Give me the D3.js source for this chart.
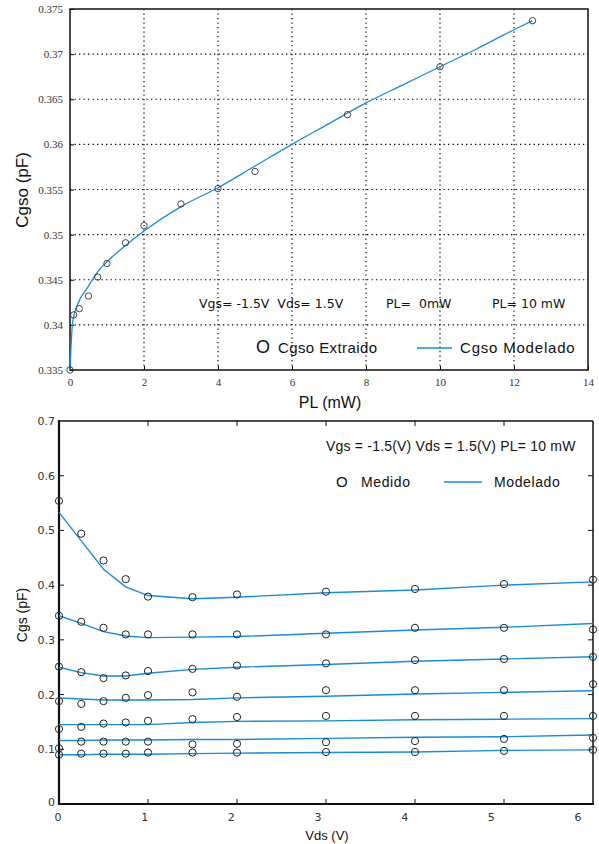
<!DOCTYPE html>
<html>
<head>
<meta charset="utf-8">
<script src="https://cdn.jsdelivr.net/npm/d3@7"></script>
<style>
  body { margin: 0; background: #fff; }
  svg { display: block; }
</style>
</head>
<body>
<svg id="chart" width="599" height="844"></svg>
<script>
// ---- top chart data: Cgso vs PL
var plExtr = [0, 0.1, 0.25, 0.5, 0.75, 1, 1.5, 2, 3, 4, 5, 7.5, 10, 12.5];
var cgsoExtr = [0.335, 0.3411, 0.3418, 0.3432, 0.3453, 0.3468, 0.3491, 0.3510, 0.3534, 0.3551, 0.3570, 0.3633, 0.3686, 0.3737];
var plMod = [0, 0.03, 0.06, 0.1, 0.2, 0.5, 0.75, 1, 1.5, 2, 3, 4, 5, 6, 7, 8, 9, 10, 11, 12, 12.5];
var cgsoMod = [0.335, 0.3378, 0.3398, 0.3409, 0.3422, 0.3443, 0.3459, 0.3470, 0.3488, 0.3504, 0.3531, 0.3552, 0.3576, 0.3600, 0.3623, 0.3646, 0.3666, 0.3686, 0.3706, 0.3727, 0.3737];
var topXTicks = [0, 2, 4, 6, 8, 10, 12, 14];
var topYTicks = [0.335, 0.34, 0.345, 0.35, 0.355, 0.36, 0.365, 0.37, 0.375];

// ---- bottom chart data: Cgs vs Vds
var vds = [0, 0.25, 0.5, 0.75, 1, 1.5, 2, 3, 4, 5, 6];
var medido = [
  [0.554, 0.494, 0.445, 0.411, 0.379, 0.378, 0.383, 0.388, 0.393, 0.402, 0.410],
  [0.344, 0.333, 0.322, 0.310, 0.310, 0.310, 0.310, 0.310, 0.322, 0.322, 0.319],
  [0.251, 0.241, 0.230, 0.235, 0.243, 0.247, 0.253, 0.257, 0.263, 0.265, 0.269],
  [0.188, 0.183, 0.188, 0.194, 0.199, 0.204, 0.196, 0.208, 0.208, 0.208, 0.219],
  [0.137, 0.141, 0.147, 0.149, 0.152, 0.155, 0.159, 0.161, 0.161, 0.161, 0.161],
  [0.102, 0.114, 0.114, 0.114, 0.114, 0.109, 0.110, 0.113, 0.115, 0.119, 0.121],
  [0.090, 0.092, 0.092, 0.092, 0.094, 0.094, 0.094, 0.095, 0.095, 0.097, 0.099]
];
var modelado = [
  [0.533, 0.481, 0.429, 0.397, 0.381, 0.375, 0.378, 0.386, 0.391, 0.400, 0.406],
  [0.344, 0.330, 0.315, 0.307, 0.304, 0.305, 0.306, 0.312, 0.318, 0.323, 0.330],
  [0.250, 0.240, 0.234, 0.234, 0.239, 0.246, 0.250, 0.255, 0.261, 0.265, 0.269],
  [0.194, 0.192, 0.190, 0.190, 0.190, 0.191, 0.194, 0.197, 0.201, 0.204, 0.207],
  [0.145, 0.145, 0.145, 0.145, 0.145, 0.149, 0.151, 0.152, 0.154, 0.155, 0.156],
  [0.116, 0.116, 0.117, 0.117, 0.117, 0.118, 0.118, 0.120, 0.122, 0.123, 0.126],
  [0.090, 0.090, 0.091, 0.091, 0.091, 0.092, 0.093, 0.094, 0.095, 0.098, 0.099]
];
var botXTicks = [0, 1, 2, 3, 4, 5, 6];
var botYTicks = [0, 0.1, 0.2, 0.3, 0.4, 0.5, 0.6, 0.7];

var blue = "#1b8bd6";
var svg = d3.select("#chart");
svg.append("rect").attr("width", 599).attr("height", 844).attr("fill", "#fff");

// ================= top chart =================
var x1 = d3.scaleLinear().domain([0, 14]).range([70, 588]);
var y1 = d3.scaleLinear().domain([0.335, 0.375]).range([370, 9]);
var topG = svg.append("g");

// dotted grid
topG.selectAll(".vg").data(topXTicks.slice(1, -1)).enter().append("line")
  .attr("x1", d => x1(d)).attr("x2", d => x1(d))
  .attr("y1", y1(0.375)).attr("y2", y1(0.335))
  .attr("stroke", "#000").attr("stroke-width", 1.2).attr("stroke-dasharray", "1.3,3.2");
topG.selectAll(".hg").data(topYTicks.slice(1, -1)).enter().append("line")
  .attr("y1", d => y1(d)).attr("y2", d => y1(d))
  .attr("x1", x1(0)).attr("x2", x1(14))
  .attr("stroke", "#000").attr("stroke-width", 1.2).attr("stroke-dasharray", "1.3,3.2");

// axes
topG.append("g").attr("transform", "translate(0,370)")
  .call(d3.axisBottom(x1).tickValues(topXTicks).tickSize(-4).tickPadding(8).tickFormat(d3.format("d")))
  .call(g => g.select(".domain").remove());
topG.append("g").attr("transform", "translate(70,0)")
  .call(d3.axisLeft(y1).tickValues(topYTicks).tickSize(-4).tickPadding(7).tickFormat(d => String(+d.toFixed(3))))
  .call(g => g.select(".domain").remove());
topG.selectAll(".tick text").attr("font-family", "Liberation Serif, serif").attr("font-size", 11).attr("fill", "#333");
topG.selectAll(".tick line").attr("stroke", "#000");

topG.append("rect").attr("x", 70).attr("y", 9).attr("width", 518).attr("height", 361)
  .attr("fill", "none").attr("stroke", "#111").attr("stroke-width", 1.5);

// model line and extracted points
topG.append("path").datum(d3.zip(plMod, cgsoMod))
  .attr("d", d3.line().curve(d3.curveMonotoneX).x(d => x1(d[0])).y(d => y1(d[1])))
  .attr("fill", "none").attr("stroke", blue).attr("stroke-width", 1.3);
topG.selectAll(".pt").data(d3.zip(plExtr, cgsoExtr)).enter().append("circle")
  .attr("cx", d => x1(d[0])).attr("cy", d => y1(d[1])).attr("r", 3.2)
  .attr("fill", "none").attr("stroke", "#333").attr("stroke-width", 0.9);

// annotations
var tf = "Liberation Sans, Arial, sans-serif";
var af = "DejaVu Sans, sans-serif";
topG.append("text").attr("x", 199).attr("y", 308).attr("font-family", af).attr("font-size", 12.5).attr("fill", "#111")
  .attr("xml:space", "preserve").text("Vgs= -1.5V  Vds= 1.5V");
topG.append("text").attr("x", 386).attr("y", 308).attr("font-family", af).attr("font-size", 12.5).attr("fill", "#111")
  .attr("xml:space", "preserve").text("PL=  0mW");
topG.append("text").attr("x", 492).attr("y", 308).attr("font-family", af).attr("font-size", 12.5).attr("fill", "#111")
  .attr("xml:space", "preserve").text("PL= 10 mW");
topG.append("text").attr("x", 256).attr("y", 353).attr("font-family", tf).attr("font-size", 18).attr("fill", "#111").text("O");
topG.append("text").attr("x", 278).attr("y", 353).attr("font-family", tf).attr("font-size", 15).attr("letter-spacing", 0.4).attr("fill", "#111").text("Cgso Extraido");
topG.append("line").attr("x1", 417).attr("x2", 452).attr("y1", 348).attr("y2", 348).attr("stroke", blue).attr("stroke-width", 1.3);
topG.append("text").attr("x", 460).attr("y", 353).attr("font-family", tf).attr("font-size", 15).attr("letter-spacing", 0.8).attr("fill", "#111").text("Cgso Modelado");

topG.append("text").attr("x", 330).attr("y", 408).attr("text-anchor", "middle")
  .attr("font-family", tf).attr("font-size", 16).attr("fill", "#111").text("PL (mW)");
topG.append("text").attr("transform", "translate(28,190) rotate(-90)").attr("text-anchor", "middle")
  .attr("font-family", tf).attr("font-size", 17).attr("fill", "#111").text("Cgso (pF)");

// ================= bottom chart =================
var x2 = d3.scaleLinear().domain([0, 6]).range([59, 593]);
var xl2 = d3.scaleLinear().domain([0, 6]).range([58, 578]); // tick labels sit a bit left of the ticks
var y2 = d3.scaleLinear().domain([0, 0.7]).range([804, 421]);
var bot = svg.append("g");

// inward ticks on all four sides
bot.selectAll(".bt").data(botXTicks.slice(1, -1)).enter().append("line")
  .attr("x1", d => x2(d)).attr("x2", d => x2(d)).attr("y1", 804).attr("y2", 799).attr("stroke", "#111");
bot.selectAll(".tt").data(botXTicks.slice(1, -1)).enter().append("line")
  .attr("x1", d => x2(d)).attr("x2", d => x2(d)).attr("y1", 421).attr("y2", 426).attr("stroke", "#111");
bot.selectAll(".lt").data(botYTicks.slice(1, -1)).enter().append("line")
  .attr("y1", d => y2(d)).attr("y2", d => y2(d)).attr("x1", 59).attr("x2", 64).attr("stroke", "#111");
bot.selectAll(".rt").data(botYTicks.slice(1, -1)).enter().append("line")
  .attr("y1", d => y2(d)).attr("y2", d => y2(d)).attr("x1", 593).attr("x2", 588).attr("stroke", "#111");

bot.selectAll(".xl").data(botXTicks).enter().append("text")
  .attr("x", d => xl2(d)).attr("y", 821).attr("text-anchor", "middle")
  .attr("font-family", "DejaVu Sans, sans-serif").attr("font-size", 11).attr("fill", "#333").text(d => d);
bot.selectAll(".yl").data(botYTicks).enter().append("text")
  .attr("x", 55).attr("y", d => d === 0 ? y2(d) + 2 : y2(d) + 4).attr("text-anchor", "end")
  .attr("font-family", "DejaVu Sans, sans-serif").attr("font-size", 11).attr("fill", "#333")
  .text(d => d === 0 ? "0" : d3.format(".1f")(d));

// frame
bot.append("line").attr("x1", 59).attr("x2", 593).attr("y1", 421).attr("y2", 421).attr("stroke", "#111").attr("stroke-width", 1.5);
bot.append("line").attr("x1", 593).attr("x2", 593).attr("y1", 421).attr("y2", 804).attr("stroke", "#111").attr("stroke-width", 1.5);
bot.append("line").attr("x1", 59).attr("x2", 59).attr("y1", 420).attr("y2", 805).attr("stroke", "#111").attr("stroke-width", 2.2);
bot.append("line").attr("x1", 58).attr("x2", 594).attr("y1", 804).attr("y2", 804).attr("stroke", "#111").attr("stroke-width", 2.2);

// model curves and measured points
var line2 = d3.line().x((d, i) => x2(vds[i])).y(d => y2(d));
bot.selectAll(".ml").data(modelado).enter().append("path")
  .attr("d", line2).attr("fill", "none").attr("stroke", blue).attr("stroke-width", 1.4);
medido.forEach(function(s) {
  bot.selectAll(null).data(s).enter().append("circle")
    .attr("cx", (d, i) => x2(vds[i])).attr("cy", d => y2(d)).attr("r", 3.6)
    .attr("fill", "none").attr("stroke", "#222").attr("stroke-width", 1);
});

// annotations
bot.append("text").attr("x", 326).attr("y", 451).attr("font-family", tf).attr("font-size", 14).attr("letter-spacing", 0.2).attr("fill", "#111")
  .text("Vgs = -1.5(V) Vds = 1.5(V) PL= 10 mW");
bot.append("text").attr("x", 336).attr("y", 487).attr("font-family", tf).attr("font-size", 15).attr("fill", "#111").text("O");
bot.append("text").attr("x", 361).attr("y", 487).attr("font-family", tf).attr("font-size", 14).attr("letter-spacing", 0.6).attr("fill", "#111").text("Medido");
bot.append("line").attr("x1", 444).attr("x2", 482).attr("y1", 482).attr("y2", 482).attr("stroke", blue).attr("stroke-width", 1.4);
bot.append("text").attr("x", 494).attr("y", 487).attr("font-family", tf).attr("font-size", 14).attr("letter-spacing", 0.6).attr("fill", "#111").text("Modelado");

bot.append("text").attr("x", 327).attr("y", 840).attr("text-anchor", "middle")
  .attr("font-family", tf).attr("font-size", 13).attr("fill", "#111").text("Vds (V)");
bot.append("text").attr("transform", "translate(27,615) rotate(-90)").attr("text-anchor", "middle")
  .attr("font-family", tf).attr("font-size", 14).attr("fill", "#111").text("Cgs (pF)");
</script>
</body>
</html>
